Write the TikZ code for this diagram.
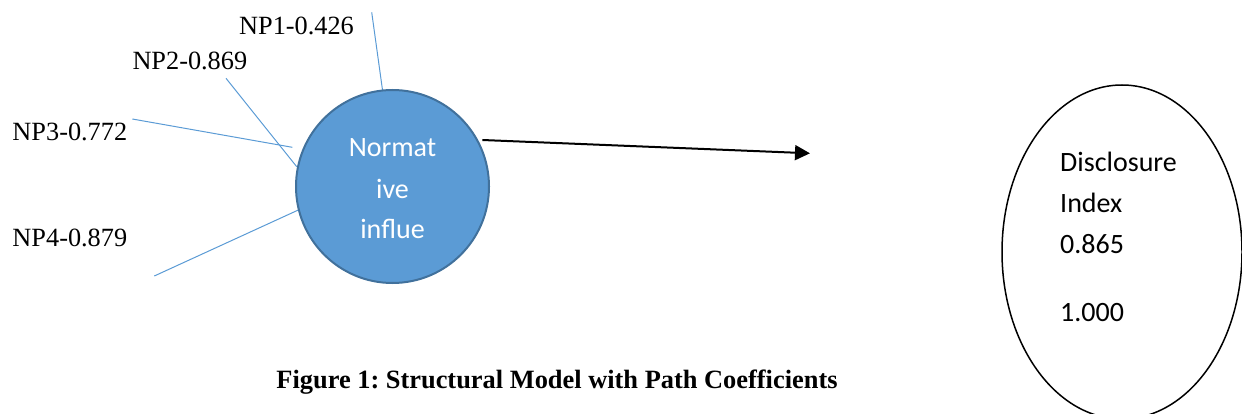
\documentclass[tikz,border=0pt]{standalone}
\usepackage{fontspec}
\setmainfont{Liberation Serif}
\newfontfamily\calib{Carlito}
\usetikzlibrary{arrows.meta,shapes.geometric}
\frenchspacing
\definecolor{nblue}{HTML}{5B9BD5}
\definecolor{nedge}{HTML}{41719C}
\tikzset{
  lbl/.style={anchor=base west, inner sep=0pt, font=\fontsize{26.3}{30}\selectfont},
  ind/.style={draw=nblue, line width=1pt},
  latent/.style={circle, fill=nblue, draw=nedge, line width=2pt, minimum size=193pt, inner sep=0pt},
  intxt/.style={anchor=base, inner sep=0pt, text=white, font=\calib\fontsize{28}{34}\selectfont},
  outtxt/.style={anchor=base west, inner sep=0pt, font=\calib\fontsize{28}{34}\selectfont},
  pathar/.style={line width=2pt, -{Triangle[length=15pt, width=15pt]}},
  depend/.style={ellipse, draw, line width=1.5pt, minimum width=240pt, minimum height=334pt, inner sep=0pt}
}
\begin{document}
\begin{tikzpicture}[x=1pt, y=-1pt]
\useasboundingbox (0,0) rectangle (1242,414);
% indicator lines
\coordinate (l1a) at (371.7,12.3);  \coordinate (l1b) at (382.5,90);
\coordinate (l2a) at (226,78.3);    \coordinate (l2b) at (296.7,166.7);
\coordinate (l3a) at (132.3,119);   \coordinate (l3b) at (292.3,147.3);
\coordinate (l4a) at (154.3,276);   \coordinate (l4b) at (298.3,210);
\draw[ind] (l1a) -- (l1b);
\draw[ind] (l2a) -- (l2b);
\draw[ind] (l3a) -- (l3b);
\draw[ind] (l4a) -- (l4b);
% latent construct
\node[latent] (ni) at (392.5,186.5) {};
\node[intxt] (t1) at (392.5,157) {Normat};
\node[intxt] (t2) at (392.5,199) {ive};
\node[intxt] (t3) at (392.5,239) {influe};
% labels
\node[lbl] (np1) at (239,35) {NP1-0.426};
\node[lbl] (np2) at (132.3,70) {NP2-0.869};
\node[lbl] (np3) at (12.3,141) {NP3-0.772};
\node[lbl] (np4) at (12.3,246.7) {NP4-0.879};
% path arrow
\coordinate (as) at (482.3,140);
\coordinate (ae) at (810,153.3);
\draw[pathar] (as) -- (ae);
% dependent construct
\node[depend] (di) at (1122,252) {};
\node[outtxt] (d1) at (1060,171.7) {Disclosure};
\node[outtxt] (d2) at (1060,212.7) {Index};
\node[outtxt] (d3) at (1060,254) {0.865};
\node[outtxt] (d4) at (1060,321.7) {1.000};
% caption
\node[anchor=base, inner sep=0pt, font=\bfseries\fontsize{26.4}{30}\selectfont] (cap) at (557,388) {Figure 1: Structural Model with Path Coefficients};
\end{tikzpicture}
\end{document}
